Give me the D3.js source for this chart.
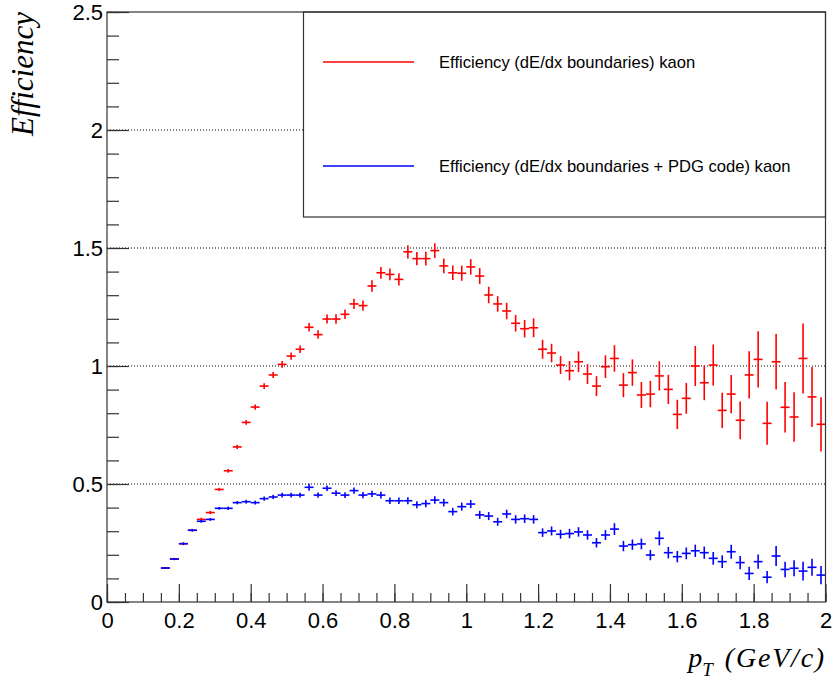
<!DOCTYPE html>
<html>
<head>
<meta charset="utf-8">
<script src="https://cdn.jsdelivr.net/npm/d3@7"></script>
<style>
  html, body { margin: 0; padding: 0; background: #fff; }
  svg { display: block; }
</style>
</head>
<body>
<svg id="chart" width="834" height="683"></svg>
<script>
'use strict';

// bin centres (GeV/c), bins are 0.025 wide
const pt = [
  0.1625, 0.1875, 0.2125, 0.2375, 0.2625, 0.2875, 0.3125, 0.3375, 0.3625, 0.3875,
  0.4125, 0.4375, 0.4625, 0.4875, 0.5125, 0.5375, 0.5625, 0.5875, 0.6125, 0.6375,
  0.6625, 0.6875, 0.7125, 0.7375, 0.7625, 0.7875, 0.8125, 0.8375, 0.8625, 0.8875,
  0.9125, 0.9375, 0.9625, 0.9875, 1.0125, 1.0375, 1.0625, 1.0875, 1.1125, 1.1375,
  1.1625, 1.1875, 1.2125, 1.2375, 1.2625, 1.2875, 1.3125, 1.3375, 1.3625, 1.3875,
  1.4125, 1.4375, 1.4625, 1.4875, 1.5125, 1.5375, 1.5625, 1.5875, 1.6125, 1.6375,
  1.6625, 1.6875, 1.7125, 1.7375, 1.7625, 1.7875, 1.8125, 1.8375, 1.8625, 1.8875,
  1.9125, 1.9375, 1.9625, 1.9875
];
const binHalfWidth = 0.0125;

const effDedx = [
  0.144, 0.182, 0.247, 0.304, 0.350, 0.379, 0.477, 0.556, 0.657, 0.761,
  0.826, 0.915, 0.962, 1.007, 1.042, 1.071, 1.164, 1.133, 1.199, 1.199,
  1.219, 1.263, 1.256, 1.339, 1.395, 1.388, 1.367, 1.484, 1.455, 1.455,
  1.489, 1.424, 1.395, 1.393, 1.420, 1.381, 1.301, 1.263, 1.233, 1.181,
  1.158, 1.162, 1.071, 1.055, 1.004, 0.980, 1.018, 0.966, 0.915, 0.997,
  1.032, 0.919, 0.972, 0.877, 0.881, 0.958, 0.901, 0.795, 0.863, 1.000,
  0.929, 1.004, 0.812, 0.881, 0.770, 0.962, 1.028, 0.757, 1.018, 0.825,
  0.784, 1.032, 0.869, 0.753
];
const errDedx = [
  0.004, 0.005, 0.006, 0.006, 0.007, 0.007, 0.007, 0.008, 0.009, 0.010,
  0.011, 0.012, 0.013, 0.014, 0.015, 0.016, 0.018, 0.018, 0.019, 0.020,
  0.020, 0.022, 0.022, 0.024, 0.025, 0.025, 0.026, 0.028, 0.028, 0.029,
  0.031, 0.031, 0.031, 0.032, 0.033, 0.034, 0.035, 0.033, 0.035, 0.035,
  0.037, 0.040, 0.040, 0.039, 0.038, 0.041, 0.044, 0.042, 0.042, 0.048,
  0.056, 0.051, 0.056, 0.055, 0.056, 0.062, 0.062, 0.062, 0.065, 0.085,
  0.074, 0.087, 0.075, 0.081, 0.080, 0.100, 0.119, 0.091, 0.118, 0.107,
  0.105, 0.148, 0.127, 0.115
];

const effPdg = [
  0.144, 0.182, 0.247, 0.304, 0.342, 0.350, 0.397, 0.397, 0.421, 0.425,
  0.421, 0.438, 0.445, 0.453, 0.453, 0.453, 0.486, 0.453, 0.482, 0.461,
  0.453, 0.472, 0.453, 0.458, 0.453, 0.429, 0.429, 0.429, 0.412, 0.417,
  0.432, 0.421, 0.383, 0.404, 0.415, 0.369, 0.364, 0.340, 0.373, 0.350,
  0.353, 0.350, 0.294, 0.301, 0.287, 0.290, 0.297, 0.284, 0.251, 0.284,
  0.309, 0.237, 0.243, 0.246, 0.199, 0.270, 0.209, 0.192, 0.206, 0.217,
  0.209, 0.185, 0.171, 0.213, 0.167, 0.121, 0.171, 0.105, 0.195, 0.138,
  0.143, 0.131, 0.147, 0.114
];
const errPdg = [
  0.003, 0.004, 0.005, 0.005, 0.006, 0.006, 0.006, 0.007, 0.007, 0.008,
  0.008, 0.009, 0.009, 0.010, 0.010, 0.010, 0.015, 0.011, 0.012, 0.012,
  0.012, 0.013, 0.013, 0.013, 0.014, 0.014, 0.014, 0.015, 0.015, 0.015,
  0.016, 0.016, 0.016, 0.017, 0.017, 0.017, 0.017, 0.017, 0.018, 0.018,
  0.018, 0.018, 0.018, 0.019, 0.019, 0.020, 0.020, 0.020, 0.020, 0.021,
  0.025, 0.022, 0.022, 0.023, 0.022, 0.030, 0.024, 0.024, 0.025, 0.026,
  0.026, 0.027, 0.027, 0.030, 0.028, 0.028, 0.030, 0.026, 0.042, 0.033,
  0.034, 0.040, 0.036, 0.039
];

const xMajor = [0, 0.2, 0.4, 0.6, 0.8, 1, 1.2, 1.4, 1.6, 1.8, 2];
const xMinor = d3.range(0, 2.0001, 0.05);
const yMajor = [0, 0.5, 1, 1.5, 2, 2.5];
const yMinor = d3.range(0, 2.5001, 0.1);
const yGrid = [0.5, 1, 1.5, 2];

const legendLabels = [
  'Efficiency (dE/dx boundaries) kaon',
  'Efficiency (dE/dx boundaries + PDG code) kaon'
];

const svg = d3.select('#chart');
const padL = 107, padR = 825.5, padT = 12, padB = 602;

const x = d3.scaleLinear().domain([0, 2]).range([padL, padR]);
const y = d3.scaleLinear().domain([0, 2.5]).range([padB, padT]);

// grid
svg.append('g')
  .selectAll('line')
  .data(yGrid)
  .join('line')
  .attr('x1', padL).attr('x2', padR)
  .attr('y1', d => y(d)).attr('y2', d => y(d))
  .attr('stroke', '#000')
  .attr('stroke-width', 1)
  .attr('stroke-dasharray', '1,2');

function drawSeries(values, errors, color) {
  const g = svg.append('g').attr('stroke', color).attr('stroke-width', 1.6);
  const pts = pt.map((p, i) => ({ p, v: values[i], e: errors[i] }));
  g.selectAll('line.h')
    .data(pts)
    .join('line')
    .attr('class', 'h')
    .attr('x1', d => x(d.p - binHalfWidth))
    .attr('x2', d => x(d.p + binHalfWidth))
    .attr('y1', d => y(d.v))
    .attr('y2', d => y(d.v));
  g.selectAll('line.v')
    .data(pts)
    .join('line')
    .attr('class', 'v')
    .attr('x1', d => x(d.p))
    .attr('x2', d => x(d.p))
    .attr('y1', d => y(d.v - d.e))
    .attr('y2', d => y(d.v + d.e));
}

drawSeries(effDedx, errDedx, '#ff0000');
drawSeries(effPdg, errPdg, '#0000ff');

// axes
const tickFont = '"Liberation Sans", Arial, Helvetica, sans-serif';

svg.append('g')
  .attr('transform', `translate(${padL},0)`)
  .call(d3.axisLeft(y).tickValues(yMajor).tickSize(-22).tickPadding(4)
    .tickFormat(d3.format('~g')));
svg.append('g')
  .attr('transform', `translate(${padL},0)`)
  .call(d3.axisLeft(y).tickValues(yMinor).tickSize(-12).tickFormat(''));

svg.append('g')
  .attr('transform', `translate(0,${padB})`)
  .call(d3.axisBottom(x).tickValues(xMajor).tickSize(-18).tickPadding(10)
    .tickFormat(d3.format('~g')));
svg.append('g')
  .attr('transform', `translate(0,${padB})`)
  .call(d3.axisBottom(x).tickValues(xMinor).tickSize(-9).tickFormat(''));

svg.selectAll('.domain').remove();
svg.selectAll('.tick line').attr('stroke', '#333').attr('stroke-width', 1.2);
svg.selectAll('.tick text')
  .attr('fill', '#000')
  .style('font-family', tickFont)
  .style('font-size', '22px');

// legend
const legend = svg.append('g');
legend.append('rect')
  .attr('x', 303.5).attr('y', padT)
  .attr('width', padR - 303.5).attr('height', 217 - padT)
  .attr('fill', '#fff')
  .attr('stroke', '#333')
  .attr('stroke-width', 1.2);

const legendColors = ['#ff0000', '#0000ff'];
const legendY = [62, 166];
legendLabels.forEach((label, i) => {
  legend.append('line')
    .attr('x1', 323).attr('x2', 414)
    .attr('y1', legendY[i]).attr('y2', legendY[i])
    .attr('stroke', legendColors[i])
    .attr('stroke-width', 1.6);
  legend.append('text')
    .attr('x', 439).attr('y', legendY[i])
    .attr('dy', '0.36em')
    .style('font-family', tickFont)
    .style('font-size', '16.6px')
    .attr('fill', '#000')
    .text(label);
});

// frame
svg.append('rect')
  .attr('x', padL).attr('y', padT)
  .attr('width', padR - padL).attr('height', padB - padT)
  .attr('fill', 'none')
  .attr('stroke', '#333')
  .attr('stroke-width', 1.2);

// axis titles
const serif = '"Liberation Serif", "Times New Roman", Times, serif';
svg.append('text')
  .attr('transform', 'translate(33,12) rotate(-90)')
  .attr('text-anchor', 'end')
  .style('font-family', serif)
  .style('font-style', 'italic')
  .style('font-size', '31px')
  .text('Efficiency');

const xTitle = svg.append('text')
  .attr('x', 826).attr('y', 667)
  .attr('text-anchor', 'end')
  .style('font-family', serif)
  .style('font-style', 'italic')
  .style('font-size', '28px');
xTitle.append('tspan').text('p');
xTitle.append('tspan').attr('dy', 9).style('font-size', '19px').text('T');
xTitle.append('tspan').attr('dy', -9).attr('dx', 12).style('letter-spacing', '1.8px').text('(GeV/c)');
</script>
</body>
</html>
